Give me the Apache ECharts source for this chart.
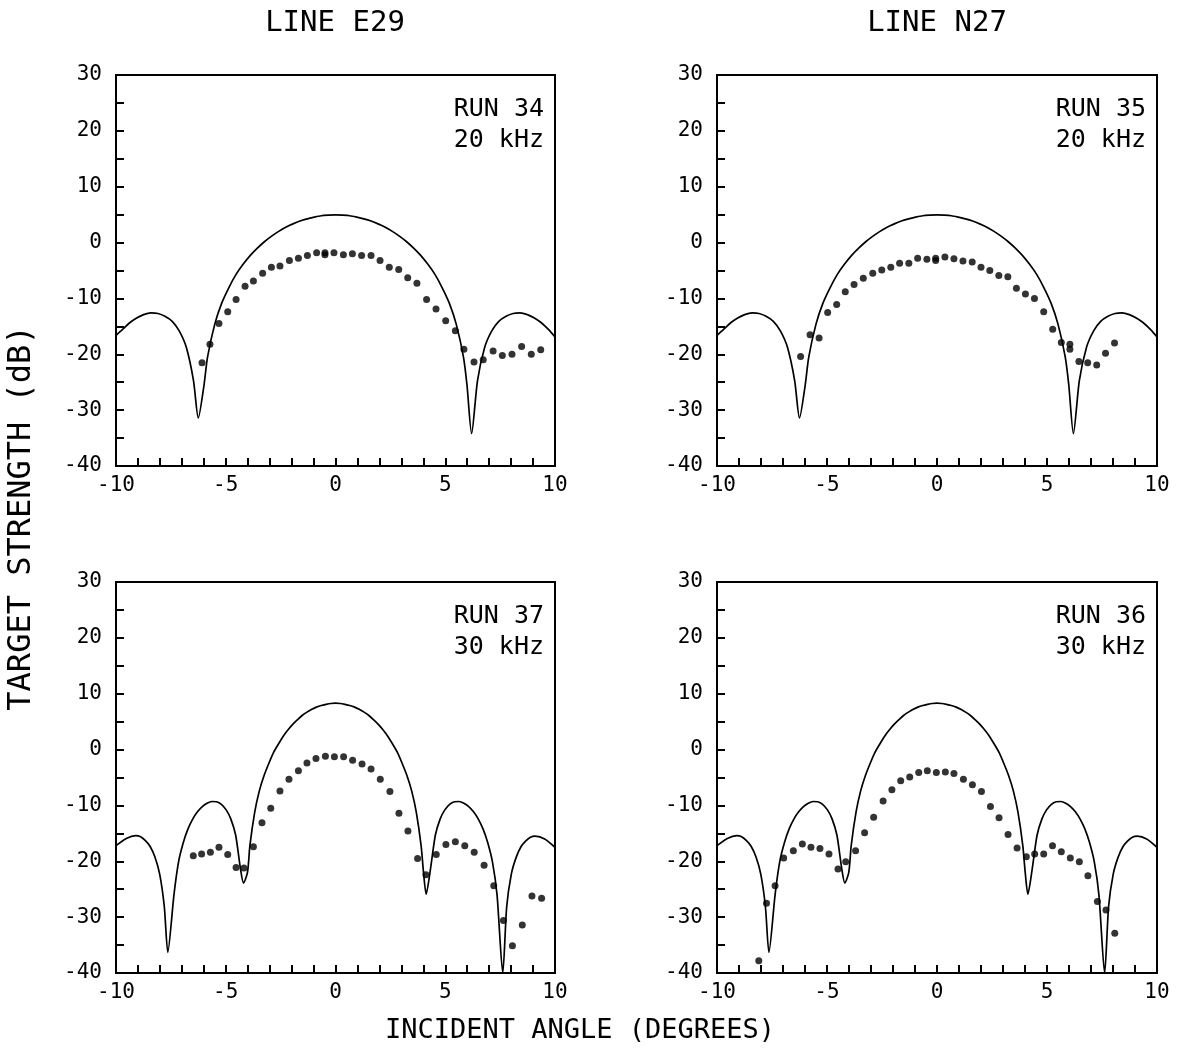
<!DOCTYPE html>
<html>
<head>
<meta charset="utf-8">
<script src="https://cdn.jsdelivr.net/npm/echarts@6/dist/echarts.min.js"></script>
<style>
html,body{margin:0;padding:0;background:#fff;}
#chart{width:1179px;height:1055px;}
</style>
</head>
<body>
<div id="chart"></div>
<script>
// ---- tick definitions ----
const xTicks = [-10, -5, 0, 5, 10];
const yTicks = [-40, -30, -20, -10, 0, 10, 20, 30];

// ---- panel texts ----
const columnTitles = ['LINE E29', 'LINE N27'];
const panelRuns = ['RUN 34', 'RUN 35', 'RUN 37', 'RUN 36'];
const panelFreqs = ['20 kHz', '20 kHz', '30 kHz', '30 kHz'];
const yAxisTitle = 'TARGET STRENGTH (dB)';
const xAxisTitle = 'INCIDENT ANGLE (DEGREES)';

// ---- theoretical curve, 20 kHz (solid line, top panels) ----
const curve20X = [-10,-9.71,-9.39,-9.06,-8.74,-8.41,-8.09,-7.77,-7.44,-7.12,-6.80,-6.47,-6.25,-5.99,-5.83,-5.50,-5.18,-4.85,-4.53,-4.21,-3.88,-3.56,-3.24,-2.91,-2.59,-2.27,-1.94,-1.62,-1.29,-0.97,-0.65,-0.32,0,
  0.32,0.65,0.97,1.29,1.62,1.94,2.27,2.59,2.91,3.24,3.56,3.88,4.21,4.53,4.85,5.18,5.50,5.83,5.99,6.20,6.47,6.80,7.12,7.44,7.77,8.09,8.41,8.74,9.06,9.39,9.71,10];
const curve20Y = [-16.6,-15.6,-14.4,-13.5,-12.9,-12.6,-12.7,-13.2,-14.1,-15.8,-18.7,-24.7,-31.4,-25.5,-20.5,-14.6,-10.8,-8.0,-5.7,-3.9,-2.3,-1.0,0.15,1.15,2.0,2.75,3.35,3.85,4.25,4.55,4.8,4.9,4.95,
  4.9,4.8,4.55,4.25,3.85,3.35,2.75,2.0,1.15,0.15,-1.0,-2.3,-3.9,-5.7,-8.0,-10.8,-14.6,-20.5,-25.5,-34.2,-24.7,-18.7,-15.8,-14.1,-13.2,-12.7,-12.6,-12.9,-13.5,-14.4,-15.6,-16.9];

// ---- theoretical curve, 30 kHz (solid line, bottom panels) ----
const curve30X = [-10,-9.53,-9.10,-8.88,-8.66,-8.45,-8.23,-8.01,-7.80,-7.64,-7.36,-7.15,-6.93,-6.72,-6.50,-6.28,-6.07,-5.85,-5.63,-5.42,-5.20,-4.98,-4.77,-4.55,-4.33,-4.19,-4.01,-3.90,-3.68,-3.47,-3.25,-3.03,-2.82,-2.60,-2.38,-2.17,-1.95,-1.73,-1.52,-1.30,-1.08,-0.87,-0.65,-0.43,-0.22,0,
  0.22,0.43,0.65,0.87,1.08,1.30,1.52,1.73,1.95,2.17,2.38,2.60,2.82,3.03,3.25,3.47,3.68,3.90,4.01,4.13,4.33,4.55,4.77,4.98,5.20,5.42,5.63,5.85,6.07,6.28,6.50,6.72,6.93,7.15,7.36,7.62,7.80,8.01,8.23,8.45,8.66,8.88,9.10,9.53,10];
const curve30Y = [-17.2,-15.9,-15.4,-15.6,-16.3,-17.3,-19.2,-22.3,-28.1,-36.3,-26.0,-20.1,-16.6,-14.2,-12.4,-11.1,-10.2,-9.6,-9.3,-9.35,-9.8,-10.8,-12.4,-15.3,-21.3,-23.9,-22.0,-17.2,-11.2,-7.4,-4.6,-2.4,-0.5,1.0,2.4,3.5,4.5,5.35,6.1,6.7,7.2,7.6,7.9,8.1,8.25,8.3,
  8.25,8.1,7.9,7.6,7.2,6.7,6.1,5.35,4.5,3.5,2.4,1.0,-0.5,-2.4,-4.6,-7.4,-11.2,-17.2,-22.0,-25.9,-21.3,-15.3,-12.4,-10.8,-9.8,-9.35,-9.3,-9.6,-10.2,-11.1,-12.4,-14.2,-16.6,-20.1,-26.0,-40.0,-28.1,-22.3,-19.3,-17.4,-16.4,-15.7,-15.5,-16.0,-17.5];

// ---- measured points (dots) ----
const run34X = [-6.08,-5.72,-5.31,-4.91,-4.53,-4.12,-3.74,-3.32,-2.92,-2.53,-2.10,-1.69,-1.28,-0.86,-0.48,-0.48,-0.07,0.36,0.77,1.19,1.62,2.03,2.45,2.88,3.29,3.71,4.15,4.58,5.02,5.46,5.85,6.31,6.73,7.18,7.60,8.04,8.48,8.92,9.35];
const run34Y = [-21.5,-18.2,-14.5,-12.4,-10.2,-7.8,-6.9,-5.5,-4.4,-4.2,-3.2,-2.8,-2.3,-1.8,-1.8,-2.2,-1.8,-2.2,-2.0,-2.3,-2.3,-3.2,-4.4,-4.8,-6.3,-7.3,-10.2,-11.9,-14.0,-15.8,-19.1,-21.4,-21.0,-19.4,-20.2,-20.0,-18.6,-20.0,-19.2];

const run35X = [-6.20,-5.77,-5.36,-4.97,-4.56,-4.17,-3.77,-3.35,-2.92,-2.51,-2.10,-1.70,-1.28,-0.88,-0.46,-0.06,-0.06,0.36,0.77,1.18,1.60,2.00,2.40,2.81,3.22,3.61,4.02,4.43,4.85,5.26,5.65,6.04,6.04,6.45,6.85,7.26,7.66,8.07];
const run35Y = [-20.4,-16.5,-17.1,-12.5,-11.1,-8.8,-7.5,-6.4,-5.5,-4.9,-4.4,-3.7,-3.7,-2.8,-3.0,-2.8,-3.2,-2.6,-2.9,-3.3,-3.5,-4.4,-5.0,-5.9,-6.1,-8.2,-9.2,-10.0,-12.4,-15.5,-17.9,-18.2,-19.1,-21.3,-21.5,-21.9,-19.8,-18.0];

const run37X = [-6.48,-6.10,-5.70,-5.31,-4.91,-4.53,-4.17,-3.74,-3.35,-2.95,-2.53,-2.12,-1.69,-1.30,-0.89,-0.46,-0.05,0.37,0.78,1.21,1.62,2.04,2.48,2.89,3.30,3.74,4.12,4.59,5.03,5.46,5.89,6.32,6.77,7.21,7.65,8.06,8.51,8.95,9.39];
const run37Y = [-19.0,-18.7,-18.4,-17.5,-18.8,-21.1,-21.2,-17.4,-13.1,-10.5,-7.4,-5.3,-3.8,-2.4,-1.6,-1.2,-1.3,-1.3,-1.9,-2.6,-3.5,-5.3,-7.5,-11.4,-14.6,-19.5,-22.4,-18.8,-17.0,-16.5,-17.2,-18.4,-20.7,-24.4,-30.6,-35.1,-31.4,-26.2,-26.6];

const run36X = [-8.10,-7.75,-7.36,-6.97,-6.53,-6.12,-5.73,-5.32,-4.91,-4.50,-4.15,-3.70,-3.29,-2.88,-2.45,-2.05,-1.65,-1.24,-0.83,-0.44,-0.03,0.38,0.77,1.20,1.61,2.02,2.43,2.82,3.23,3.64,4.06,4.44,4.85,5.25,5.65,6.06,6.47,6.86,7.29,7.68,8.08];
const run36Y = [-37.8,-27.5,-24.4,-19.4,-18.1,-16.9,-17.5,-17.7,-18.7,-21.4,-20.1,-18.1,-14.9,-12.1,-9.2,-7.2,-5.6,-4.9,-4.1,-3.8,-4.1,-4.0,-4.3,-5.3,-6.3,-7.5,-10.2,-12.2,-15.2,-17.6,-19.2,-18.7,-18.7,-17.2,-18.3,-19.4,-20.1,-22.6,-27.2,-28.7,-32.9];

// ---- build ----
const zip = (xs, ys) => xs.map((x, i) => [x, ys[i]]);
const FONT = "'DejaVu Sans Mono', 'Liberation Mono', monospace";

const gridBoxes = [
  {left: 116, top: 75, width: 439, height: 391},
  {left: 717, top: 75, width: 440, height: 391},
  {left: 116, top: 582, width: 439, height: 391},
  {left: 717, top: 582, width: 440, height: 391}
];
const panelCurves = [[curve20X, curve20Y], [curve20X, curve20Y], [curve30X, curve30Y], [curve30X, curve30Y]];
const panelDots = [[run34X, run34Y], [run35X, run35Y], [run37X, run37Y], [run36X, run36Y]];

const grids = gridBoxes.map(b => Object.assign({show: true, borderColor: '#000', borderWidth: 2, backgroundColor: 'transparent'}, b));
const tickStyle = {color: '#000', width: 2};

const xAxes = gridBoxes.map((b, i) => ({
  type: 'value', gridIndex: i,
  min: xTicks[0], max: xTicks[xTicks.length - 1], interval: xTicks[1] - xTicks[0],
  axisLine: {show: true, onZero: false, lineStyle: {color: '#000', width: 2}},
  axisTick: {show: true, inside: true, length: 8, lineStyle: tickStyle},
  minorTick: {show: true, splitNumber: 5, length: 8, lineStyle: tickStyle},
  splitLine: {show: false},
  axisLabel: {color: '#000', fontFamily: FONT, fontSize: 21, margin: 9}
}));
const yAxes = gridBoxes.map((b, i) => ({
  type: 'value', gridIndex: i,
  min: yTicks[0], max: yTicks[yTicks.length - 1], interval: yTicks[1] - yTicks[0],
  axisLine: {show: true, onZero: false, lineStyle: {color: '#000', width: 2}},
  axisTick: {show: true, inside: true, length: 8, lineStyle: tickStyle},
  minorTick: {show: true, splitNumber: 2, length: 8, lineStyle: tickStyle},
  splitLine: {show: false},
  axisLabel: {color: '#000', fontFamily: FONT, fontSize: 21, margin: 14}
}));

const series = [];
gridBoxes.forEach((b, i) => {
  series.push({
    type: 'line', xAxisIndex: i, yAxisIndex: i,
    data: zip(panelCurves[i][0], panelCurves[i][1]),
    showSymbol: false, symbol: 'none', smooth: 0.25,
    lineStyle: {color: '#000', width: 1.7},
    clip: true, silent: true
  });
  series.push({
    type: 'scatter', xAxisIndex: i, yAxisIndex: i,
    data: zip(panelDots[i][0], panelDots[i][1]),
    symbol: 'circle', symbolSize: 7,
    itemStyle: {color: '#000'}, silent: true
  });
});

const graphics = [];
const colCenters = [335, 937];
columnTitles.forEach((t, i) => {
  graphics.push({type: 'text', x: colCenters[i], y: 23,
    style: {text: t, font: "29px " + FONT, fill: '#000', textAlign: 'center', textVerticalAlign: 'middle'}});
});
gridBoxes.forEach((b, i) => {
  const rx = b.left + b.width - 11;
  graphics.push({type: 'text', x: rx, y: b.top + 34,
    style: {text: panelRuns[i], font: "25px " + FONT, fill: '#000', textAlign: 'right', textVerticalAlign: 'middle'}});
  graphics.push({type: 'text', x: rx, y: b.top + 65,
    style: {text: panelFreqs[i], font: "25px " + FONT, fill: '#000', textAlign: 'right', textVerticalAlign: 'middle'}});
});
graphics.push({type: 'text', x: 22, y: 518, rotation: Math.PI / 2,
  style: {text: yAxisTitle, font: "32px " + FONT, fill: '#000', textAlign: 'center', textVerticalAlign: 'middle'}});
graphics.push({type: 'text', x: 580, y: 1031,
  style: {text: xAxisTitle, font: "27px " + FONT, fill: '#000', textAlign: 'center', textVerticalAlign: 'middle'}});

const chart = echarts.init(document.getElementById('chart'), null, {renderer: 'canvas'});
chart.setOption({
  animation: false,
  backgroundColor: '#fff',
  grid: grids,
  xAxis: xAxes,
  yAxis: yAxes,
  series: series,
  graphic: graphics
});
</script>
</body>
</html>
